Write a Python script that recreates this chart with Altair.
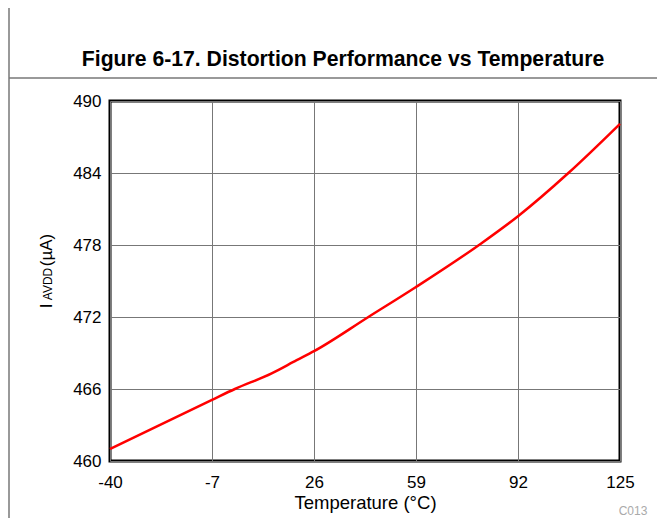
import altair as alt
import pandas as pd

# data
temps = [-40, -7, 0.4, 12.3, 20.4, 26, 43.6, 59, 80.2, 92, 108.3, 125]
iavdd = [461.0, 465.1, 466.0, 467.3, 468.4, 469.15, 472.0, 474.5, 478.15, 480.4, 484.0, 488.1]
x_ticks = [-40, -7, 26, 59, 92, 125]
y_ticks = [460, 466, 472, 478, 484, 490]

title_text = "Figure 6-17. Distortion Performance vs Temperature"
x_title = "Temperature (°C)"
code_text = "C013"

df = pd.DataFrame({"T": temps, "I": iavdd})

W, H = 510, 360
FONT = "Liberation Sans"

one = alt.Data(values=[{}])

curve = alt.Chart(df).mark_line(color="#ff0000", strokeWidth=2.5, interpolate="monotone").encode(
    x=alt.X("T:Q", scale=alt.Scale(domain=[-40, 125], nice=False, zero=False),
            axis=alt.Axis(values=x_ticks, title=x_title, grid=True, gridColor="#777777",
                          gridWidth=1, ticks=False, domain=False, labelFont=FONT,
                          labelFontSize=17, labelColor="#000", labelPadding=13,
                          labelExpr="datum.value",
                          titleFont=FONT, titleFontSize=18.5, titleFontWeight="normal",
                          titleColor="#000", titlePadding=3, labelFlush=False)),
    y=alt.Y("I:Q", scale=alt.Scale(domain=[460, 490], nice=False, zero=False),
            axis=alt.Axis(values=y_ticks, title=None, grid=True, gridColor="#777777",
                          gridWidth=1, ticks=False, domain=False, labelFont=FONT,
                          labelFontSize=17, labelColor="#000", labelPadding=9,
                          labelFlush=False)),
)

# page frame lines
vline = alt.Chart(one).mark_rule(color="#777777", strokeWidth=1.5).encode(
    x=alt.value(-101), y=alt.value(-101), y2=alt.value(417))
hline = alt.Chart(one).mark_rule(color="#777777", strokeWidth=1.5).encode(
    x=alt.value(-101), x2=alt.value(555), y=alt.value(-23))

title = alt.Chart(one).mark_text(text=title_text, font=FONT, fontSize=21.2, fontWeight="bold",
                                 align="center", baseline="middle", color="#000").encode(
    x=alt.value(233), y=alt.value(-41))

ylab_i = alt.Chart(one).mark_text(text="I", font=FONT, fontSize=17, angle=270,
                                  align="center", baseline="middle", color="#000").encode(
    x=alt.value(-63), y=alt.value(205))
ylab_sub = alt.Chart(one).mark_text(text="AVDD", font=FONT, fontSize=12, angle=270,
                                    align="center", baseline="middle", color="#000").encode(
    x=alt.value(-62), y=alt.value(183))
ylab_unit = alt.Chart(one).mark_text(text="(µA)", font=FONT, fontSize=17, angle=270,
                                     align="center", baseline="middle", color="#000").encode(
    x=alt.value(-63), y=alt.value(149))

code = alt.Chart(one).mark_text(text=code_text, font=FONT, fontSize=12, color="#aaaaaa",
                                align="center", baseline="middle").encode(
    x=alt.value(523), y=alt.value(410))

chart = alt.layer(curve, vline, hline, title, ylab_i, ylab_sub, ylab_unit, code).properties(
    width=W, height=H,
    autosize=alt.AutoSizeParams(type="none"),
    padding={"left": 102, "top": 93, "right": 37, "bottom": 57},
    background="white",
).configure_view(stroke="#000000", strokeWidth=3)

chart.save("out.html", embed_options={"renderer": "svg", "actions": False})
